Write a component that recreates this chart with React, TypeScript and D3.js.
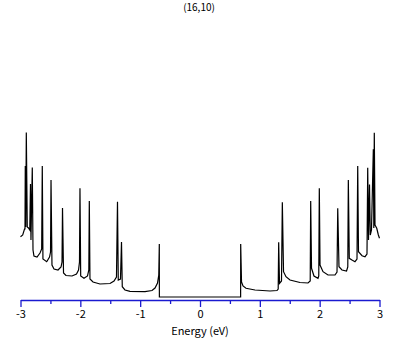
import { useRef, useEffect } from 'react';
import * as d3 from 'd3';

// Density of states, energy in eV, DOS in arbitrary units
const leftEnergy = [
  -3.0, -2.963, -2.933, -2.925, -2.92, -2.912, -2.903, -2.887, -2.867, -2.845,
  -2.833, -2.825, -2.803, -2.791, -2.775, -2.724, -2.674, -2.646, -2.636, -2.625,
  -2.562, -2.515, -2.498, -2.49, -2.474, -2.44, -2.373, -2.323, -2.306, -2.298,
  -2.281, -2.24, -2.139, -2.064, -2.03, -2.014, -2.006, -1.994, -1.939, -1.88,
  -1.858, -1.85, -1.839, -1.788, -1.672, -1.504, -1.437, -1.396, -1.379, -1.366,
  -1.329, -1.312, -1.299, -1.254, -1.17, -0.919, -0.802, -0.752, -0.71, -0.689,
  -0.68, -0.679,
];
const leftDos = [
  6.03, 6.2, 6.8, 6.8, 13.1, 7.0, 16.45, 7.0, 6.9, 6.7,
  11.3, 5.7, 12.95, 4.7, 4.1, 4.0, 4.4, 4.8, 13.1, 3.8,
  3.53, 4.0, 4.5, 11.7, 3.2, 2.8, 2.7, 3.0, 3.5, 8.9,
  2.4, 2.15, 2.1, 2.3, 2.7, 3.5, 10.87, 2.1, 1.87, 2.1,
  2.7, 9.6, 1.8, 1.5, 1.3, 1.35, 1.6, 2.0, 9.53, 1.7,
  1.8, 5.5, 1.03, 0.7, 0.57, 0.53, 0.65, 0.9, 1.4, 2.2,
  5.3, 0,
];
const rightEnergy = [
  0.679, 0.68, 0.694, 0.719, 0.769, 0.919, 1.17, 1.287, 1.307, 1.315,
  1.329, 1.362, 1.376, 1.396, 1.437, 1.504, 1.671, 1.805, 1.842, 1.85,
  1.864, 1.905, 1.972, 1.985, 1.994, 2.006, 2.056, 2.139, 2.256, 2.29,
  2.302, 2.323, 2.373, 2.449, 2.47, 2.479, 2.495, 2.54, 2.59, 2.624,
  2.636, 2.649, 2.708, 2.758, 2.791, 2.803, 2.816, 2.833, 2.846, 2.866,
  2.897, 2.905, 2.913, 2.925, 2.954, 2.981, 3.0,
];
const rightDos = [
  0, 5.3, 1.5, 1.1, 0.87, 0.7, 0.6, 0.65, 0.8, 5.47,
  1.37, 1.6, 9.47, 2.53, 2.03, 1.7, 1.45, 1.4, 1.6, 9.6,
  2.87, 2.1, 1.87, 2.1, 10.87, 3.2, 2.53, 2.2, 2.2, 2.5,
  8.87, 3.03, 2.7, 2.6, 3.0, 11.7, 3.87, 3.7, 3.53, 3.8,
  13.1, 4.53, 4.13, 4.03, 4.3, 12.93, 5.7, 11.25, 6.2, 6.7,
  14.77, 6.9, 16.43, 7.2, 6.87, 6.2, 5.87,
];
const majorTicks = [-3, -2, -1, 0, 1, 2, 3];
const minorTicks = [-2.5, -1.5, -0.5, 0.5, 1.5, 2.5];
const title = '(16,10)';
const xLabel = 'Energy (eV)';

export default function App() {
  const ref = useRef<SVGSVGElement>(null);

  useEffect(() => {
    if (!ref.current) return;
    const width = 409;
    const height = 345;
    const font = '"Noto Sans CJK JP", "DejaVu Sans", sans-serif';

    const svg = d3.select(ref.current)
      .attr('width', width)
      .attr('height', height);
    svg.selectAll('*').remove();

    const x = d3.scaleLinear().domain([-3, 3]).range([20.5, 379.5]);
    const y = d3.scaleLinear().domain([0, 17]).range([297, 127]);

    const points: [number, number][] = [
      ...leftEnergy.map((e, i) => [e, leftDos[i]] as [number, number]),
      ...rightEnergy.map((e, i) => [e, rightDos[i]] as [number, number]),
    ];

    const line = d3.line<[number, number]>()
      .x(d => x(d[0]))
      .y(d => y(d[1]));

    svg.append('path')
      .datum(points)
      .attr('fill', 'none')
      .attr('stroke', '#000')
      .attr('stroke-width', 1.2)
      .attr('stroke-linejoin', 'miter')
      .attr('d', line);

    // x axis
    const axis = svg.append('g')
      .attr('transform', 'translate(0,300)')
      .call(d3.axisBottom(x).tickValues(majorTicks).tickSize(7).tickSizeOuter(0)
        .tickFormat(d => String(d)));
    axis.select('.domain').attr('stroke', '#1a1ad0').attr('stroke-width', 1.3);
    axis.selectAll('.tick line').attr('stroke', '#1a1ad0').attr('stroke-width', 1.3);
    axis.selectAll('.tick text')
      .attr('fill', '#000')
      .style('font-family', font)
      .style('font-size', '11px');

    const minor = svg.append('g')
      .attr('transform', 'translate(0,300)')
      .call(d3.axisBottom(x).tickValues(minorTicks).tickSize(4).tickFormat(() => ''));
    minor.select('.domain').remove();
    minor.selectAll('.tick line').attr('stroke', '#1a1ad0').attr('stroke-width', 1.3);

    svg.append('text')
      .attr('x', 200)
      .attr('y', 335)
      .attr('text-anchor', 'middle')
      .style('font-family', font)
      .style('font-size', '11px')
      .text(xLabel);

    svg.append('text')
      .attr('x', 199)
      .attr('y', 11)
      .attr('text-anchor', 'middle')
      .style('font-family', font)
      .style('font-size', '10px')
      .text(title);
  }, []);

  return (
    <svg ref={ref} style={{ position: 'absolute', left: 0, top: 0, background: '#fff' }}></svg>
  );
}
